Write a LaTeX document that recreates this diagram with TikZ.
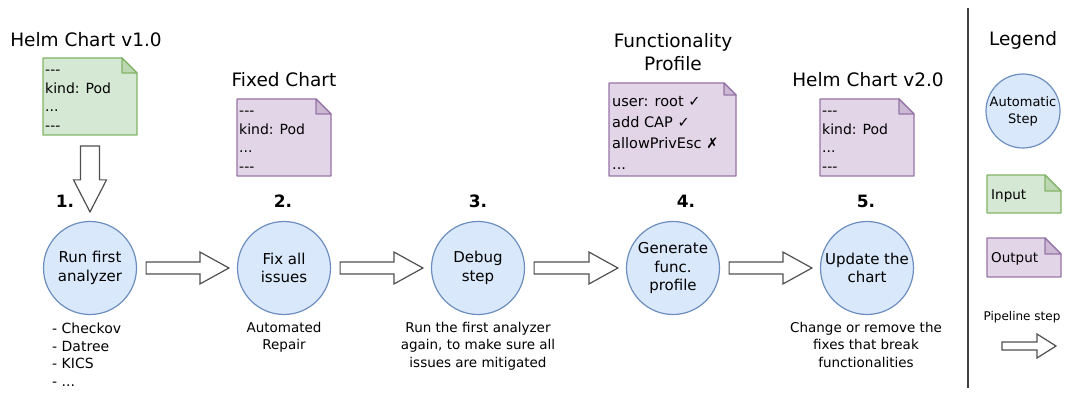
\documentclass[tikz,border=0pt]{standalone}
\usepackage{fontspec}
\setmainfont{DejaVu Sans}
\usetikzlibrary{calc}
\definecolor{bfill}{HTML}{DAE8FC}
\definecolor{bline}{HTML}{6C8EBF}
\definecolor{gfill}{HTML}{D5E8D4}
\definecolor{gline}{HTML}{82B366}
\definecolor{pfill}{HTML}{E1D5E7}
\definecolor{pline}{HTML}{9673A6}
\definecolor{agray}{HTML}{505050}
\newcommand\tdash{-\kern0pt-\kern0pt-}
\newcommand\docshape[7]{%
  \filldraw[fill=#5, draw=#6, line width=1.2pt, line join=round] (#1,#2) -- (#3-#7,#2) -- (#3,#2+#7) -- (#3,#4) -- (#1,#4) -- cycle;
  \filldraw[fill=#6!30!#5, draw=#6, line width=1.2pt, line join=round] (#3-#7,#2) -- (#3-#7,#2+#7) -- (#3,#2+#7) -- cycle;
}
\newcommand\rarrow[5]{% from, to, shaft half, head half, head length
  \draw[parrow] let \p1=($(#1.east)+(9,0)$), \p2=($(#2.west)+(-8,0)$) in
   (\x1,\y1+#3pt) -- (\x2-#5pt,\y1+#3pt) -- (\x2-#5pt,\y1+#4pt) -- (\x2,\y1)
   -- (\x2-#5pt,\y1-#4pt) -- (\x2-#5pt,\y1-#3pt) -- (\x1,\y1-#3pt) -- cycle;
}
\tikzset{
  stepc/.style={circle, draw=bline, fill=bfill, line width=1.2pt, minimum size=93pt, inner sep=0pt, align=center, font=\fontsize{15}{18.5}\selectfont},
  ttl/.style={font=\fontsize{18.5}{23}\selectfont, align=center, inner sep=0pt},
  num/.style={font=\bfseries\fontsize{17}{20}\selectfont, inner sep=0pt},
  lbl/.style={font=\fontsize{13.5}{17.5}\selectfont, align=center, inner sep=0pt, anchor=north},
  doctxt/.style={font=\fontsize{14}{18.5}\selectfont, align=left, anchor=north west, inner sep=0pt},
  parrow/.style={draw=agray, fill=white, line width=1.2pt, line join=miter},
}
\begin{document}
\begin{tikzpicture}[x=1pt,y=-1pt]
\useasboundingbox (0,0) rectangle (1073,395);

% titles
\node[ttl] (t1) at (86,40) {Helm Chart v1.0};
\node[ttl] (t2) at (284,80) {Fixed Chart};
\node[ttl] (t4) at (673,52) {Functionality\\Profile};
\node[ttl] (t5) at (868,80) {Helm Chart v2.0};

% documents
\docshape{43}{58}{137}{135}{gfill}{gline}{15}
\node[doctxt] (d1) at (45,70) {\tdash\\kind: Pod\\...\\\tdash};
\coordinate (d1b) at (90,135);

\docshape{237}{99}{331}{176}{pfill}{pline}{15}
\node[doctxt] (d2) at (239,111) {\tdash\\kind: Pod\\...\\\tdash};

\docshape{609}{83}{736}{176}{pfill}{pline}{12}
\node[doctxt, font=\fontsize{14.5}{21}\selectfont] (d4) at (612,96) {user: root ✓\\add CAP ✓\\allowPrivEsc ✗\\...};

\docshape{820}{99}{914}{176}{pfill}{pline}{15}
\node[doctxt] (d5) at (822,111) {\tdash\\kind: Pod\\...\\\tdash};

% step circles
\node[stepc] (c1) at (90,268) {Run first\\analyzer};
\node[stepc] (c2) at (284,268) {Fix all\\issues};
\node[stepc] (c3) at (478,268) {Debug\\step};
\node[stepc] (c4) at (673,268) {Generate\\func.\\profile};
\node[stepc] (c5) at (867,268) {Update the\\chart};

% numbers
\node[num] (n1) at (65,201) {1.};
\node[num] (n2) at (283,201) {2.};
\node[num] (n3) at (478,201) {3.};
\node[num] (n4) at (686,201) {4.};
\node[num] (n5) at (866,201) {5.};

% down arrow
\draw[parrow] let \p1=($(d1b)+(0,11)$), \p2=($(c1.north)+(0,-9)$) in
  (\x1-9.5pt,\y1) -- (\x1+9.5pt,\y1) -- (\x1+9.5pt,\y2+32pt) -- (\x1+16.5pt,\y2+32pt) -- (\x1,\y2)
  -- (\x1-16.5pt,\y2+32pt) -- (\x1-9.5pt,\y2+32pt) -- cycle;

% pipeline arrows
\rarrow{c1}{c2}{6}{16}{29}
\rarrow{c2}{c3}{6}{16}{29}
\rarrow{c3}{c4}{6}{16}{29}
\rarrow{c4}{c5}{6}{16}{29}

% labels
\node[lbl, align=left, anchor=north west, font=\fontsize{14}{17.5}\selectfont] (l1) at (52,323) {- Checkov\\- Datree\\- KICS\\- ...};
\node[lbl] (l2) at (284,322) {Automated\\Repair};
\node[lbl] (l3) at (478,322) {Run the first analyzer\\again, to make sure all\\issues are mitigated};
\node[lbl] (l5) at (866,322) {Change or remove the\\fixes that break\\functionalities};

% separator
\draw[line width=1.5pt, black!75] (968,8) -- (968,388);

% legend
\node[ttl] (lg) at (1023,40) {Legend};
\node[stepc, minimum size=74pt, font=\fontsize{13}{17}\selectfont] (lc) at (1023,111) {Automatic\\Step};
\docshape{987}{175}{1061}{213}{gfill}{gline}{16}
\node[font=\fontsize{13.5}{15}\selectfont, anchor=west, inner sep=0pt] (lin) at (991,196) {Input};
\docshape{987}{238}{1061}{277}{pfill}{pline}{16}
\node[font=\fontsize{13.5}{15}\selectfont, anchor=west, inner sep=0pt] (lout) at (991,259) {Output};
\node[font=\fontsize{12}{15}\selectfont, inner sep=0pt] (lps) at (1022,317) {Pipeline step};
\coordinate (la1) at (1002,346);
\coordinate (la2) at (1056,346);
\draw[parrow] (la1) ++(0,-4) -- ++(35,0) -- ++(0,-8) -- (la2) -- ++(-19,12) -- ++(0,-8) -- ++(-35,0) -- cycle;
\end{tikzpicture}
\end{document}
